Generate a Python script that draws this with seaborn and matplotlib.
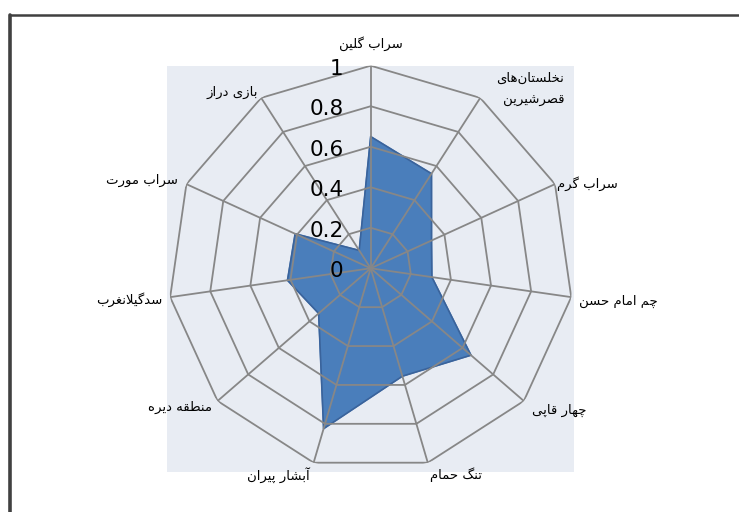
import numpy as np
import matplotlib
matplotlib.use("Agg")
import matplotlib.pyplot as plt
import seaborn as sns
from matplotlib.patches import Rectangle
from matplotlib.lines import Line2D

# data (clockwise from the top)
categories = ["سراب گلین", "نخلستان‌های\nقصرشیرین", "سراب گرم", "چم امام حسن",
              "چهار قاپی", "تنگ حمام", "آبشار پیران", "منطقه دیره",
              "سدگیلانغرب", "سراب مورت", "بازی دراز"]
values = [0.65, 0.555, 0.33, 0.305, 0.655, 0.555, 0.825, 0.34, 0.415, 0.41, 0.105]
r_ticks = [0, 0.2, 0.4, 0.6, 0.8, 1.0]
r_tick_labels = ["0", "0.2", "0.4", "0.6", "0.8", "1"]

# Arabic/Persian letter forms: isolated, final, initial, medial
FORMS = {
    "ا": ("\uFE8D", "\uFE8E"), "آ": ("\uFE81", "\uFE82"),
    "د": ("\uFEA9", "\uFEAA"), "ر": ("\uFEAD", "\uFEAE"),
    "ز": ("\uFEAF", "\uFEB0"), "و": ("\uFEED", "\uFEEE"),
    "ب": ("\uFE8F", "\uFE90", "\uFE91", "\uFE92"),
    "پ": ("\uFB56", "\uFB57", "\uFB58", "\uFB59"),
    "ت": ("\uFE95", "\uFE96", "\uFE97", "\uFE98"),
    "چ": ("\uFB7A", "\uFB7B", "\uFB7C", "\uFB7D"),
    "ح": ("\uFEA1", "\uFEA2", "\uFEA3", "\uFEA4"),
    "خ": ("\uFEA5", "\uFEA6", "\uFEA7", "\uFEA8"),
    "س": ("\uFEB1", "\uFEB2", "\uFEB3", "\uFEB4"),
    "ش": ("\uFEB5", "\uFEB6", "\uFEB7", "\uFEB8"),
    "ص": ("\uFEB9", "\uFEBA", "\uFEBB", "\uFEBC"),
    "ط": ("\uFEC1", "\uFEC2", "\uFEC3", "\uFEC4"),
    "غ": ("\uFECD", "\uFECE", "\uFECF", "\uFED0"),
    "ق": ("\uFED5", "\uFED6", "\uFED7", "\uFED8"),
    "گ": ("\uFB92", "\uFB93", "\uFB94", "\uFB95"),
    "ل": ("\uFEDD", "\uFEDE", "\uFEDF", "\uFEE0"),
    "م": ("\uFEE1", "\uFEE2", "\uFEE3", "\uFEE4"),
    "ن": ("\uFEE5", "\uFEE6", "\uFEE7", "\uFEE8"),
    "ه": ("\uFEE9", "\uFEEA", "\uFEEB", "\uFEEC"),
    "ی": ("\uFBFC", "\uFBFD", "\uFBFE", "\uFBFF"),
}
LAM_ALEF = {"ا": ("\uFEFB", "\uFEFC"), "آ": ("\uFEF5", "\uFEF6")}


def shape(text):
    # join letters and put them in visual (left-to-right) order
    out = []
    chars = list(text)
    i = 0
    prev_joins = False
    while i < len(chars):
        c = chars[i]
        if c not in FORMS:
            if c != "\u200c":
                out.append(c)
            prev_joins = False
            i += 1
            continue
        nxt = chars[i + 1] if i + 1 < len(chars) else ""
        if c == "ل" and nxt in LAM_ALEF:
            out.append(LAM_ALEF[nxt][1 if prev_joins else 0])
            prev_joins = False
            i += 2
            continue
        f = FORMS[c]
        joins_next = len(f) == 4 and nxt in FORMS
        if prev_joins and joins_next:
            out.append(f[3])
        elif prev_joins:
            out.append(f[1])
        elif joins_next:
            out.append(f[2])
        else:
            out.append(f[0])
        prev_joins = joins_next
        i += 1
    return "".join(reversed(out))


sns.set_style("white")
plt.rcParams["font.family"] = ["DejaVu Sans"]

fig = plt.figure(figsize=(7.39, 5.12), dpi=100)
W, H = 739, 512

# plot-area background and the cropped chart frame
fig.add_artist(Rectangle((167 / W, 1 - 472 / H), 407 / W, 406 / H,
                         transform=fig.transFigure, facecolor="#E8ECF3",
                         edgecolor="none", zorder=-2))
fig.add_artist(Line2D([10 / W, 10 / W], [0, 1 - 15 / H], transform=fig.transFigure,
                      color="#404040", lw=2.6))
fig.add_artist(Line2D([10 / W, 1], [1 - 15 / H, 1 - 15 / H], transform=fig.transFigure,
                      color="#404040", lw=1.8))

cx, cy, R = 370.7, 268.3, 202.6
ax = fig.add_axes([(cx - R) / W, (H - cy - R) / H, 2 * R / W, 2 * R / H],
                  projection="polar")
ax.set_theta_zero_location("N")
ax.set_theta_direction(-1)
ax.set_ylim(0, 1)
ax.set_axis_off()

n = len(categories)
theta = np.arange(n) * 2 * np.pi / n
theta_c = np.append(theta, theta[0] + 2 * np.pi)
vals_c = np.append(values, values[0])

# filled series
ax.fill(theta_c, vals_c, color="#4A7EBB", zorder=1)
sns.lineplot(x=theta_c, y=vals_c, sort=False, ax=ax, color="#3A639B", lw=1.2, zorder=1.5)

# polygon grid and spokes
grid_c = "#878787"
for lv in r_ticks[1:]:
    ax.plot(theta_c, [lv] * len(theta_c), color=grid_c, lw=1.3, zorder=2)
for t in theta:
    ax.plot([t, t], [0, 1], color=grid_c, lw=1.3, zorder=2)

# radial tick labels
for lv, lab in zip(r_ticks, r_tick_labels):
    ax.annotate(lab, (0, lv), xytext=(-27, -3), textcoords="offset pixels",
                ha="right", va="center", fontsize=15.5, color="black", zorder=3)

# category labels (offsets in pixels from the outer ring vertex)
label_offsets = [(0, 22, "center"), (16, 8, "left"), (2, 1, "left"), (8, -4, "left"),
                 (8, -9, "left"), (2, -12, "left"), (-4, -12, "right"), (-6, -6, "right"),
                 (-8, -2, "right"), (-9, 4, "right"), (-3, 5, "right")]
for t, cat, (dx, dy, ha) in zip(theta, categories, label_offsets):
    txt = "\n".join(shape(part) for part in cat.split("\n"))
    ax.annotate(txt, (t, 1.0), xytext=(dx, dy), textcoords="offset pixels",
                ha=ha, va="center", multialignment="right", linespacing=1.9,
                fontsize=9.5, color="black", annotation_clip=False)

fig.savefig("out.png", dpi=100)
